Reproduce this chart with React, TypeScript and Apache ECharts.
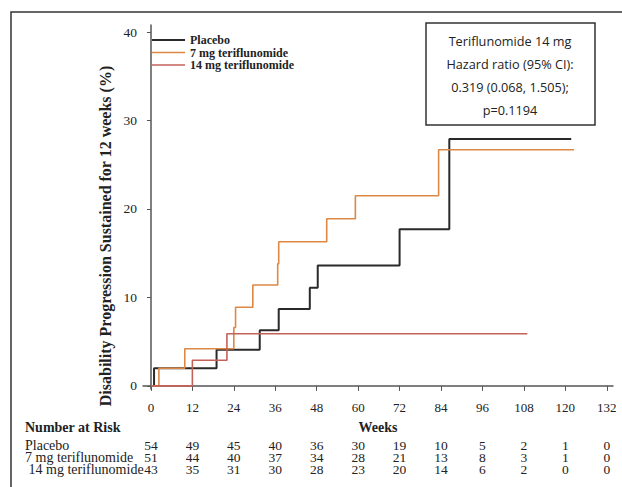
import React, { useEffect, useRef } from "react";
import * as echarts from "echarts";

const weekTicks = [0, 12, 24, 36, 48, 60, 72, 84, 96, 108, 120, 132];
const yTicks = [0, 10, 20, 30, 40];

const seriesNames = ["Placebo", "7 mg teriflunomide", "14 mg teriflunomide"];
const seriesColors = ["#2a2a2a", "#dd8844", "#c4625a"];

const placebo: [number, number][] = [
  [0, 0], [0.9, 2.0], [19, 4.1], [31.5, 6.3], [37, 8.7], [46, 11.1], [48.3, 13.6],
  [72, 17.7], [86.4, 27.9], [121.7, 27.9],
];
const teri7: [number, number][] = [
  [0, 0], [2.3, 2.0], [9.8, 4.2], [24, 6.6], [24.5, 8.9], [29.5, 11.4], [36.7, 13.8],
  [37, 16.3], [50.9, 18.9], [59.2, 21.5], [83.3, 26.7], [122.5, 26.7],
];
const teri14: [number, number][] = [
  [0, 0], [12, 2.9], [22, 5.9], [109, 5.9],
];

const riskLabels = ["Placebo", "7 mg teriflunomide", " 14 mg teriflunomide"];
const riskPlacebo = [54, 49, 45, 40, 36, 30, 19, 10, 5, 2, 1, 0];
const risk7 = [51, 44, 40, 37, 34, 28, 21, 13, 8, 3, 1, 0];
const risk14 = [43, 35, 31, 30, 28, 23, 20, 14, 6, 2, 0, 0];

const boxLines = [
  "Teriflunomide 14 mg",
  "Hazard ratio (95% CI):",
  "0.319 (0.068, 1.505);",
  "p=0.1194",
];

const SERIF = "'Liberation Serif', 'Times New Roman', serif";
const SANS = "'Open Sans', 'Noto Sans', sans-serif";

export default function App() {
  const ref = useRef<HTMLDivElement>(null);
  useEffect(() => {
    if (!ref.current) return;
    const chart = echarts.init(ref.current, undefined, { renderer: "svg" });
    const data = [placebo, teri7, teri14];
    const widths = [2, 1.6, 1.6];
    const option: any = {
      animation: false,
      backgroundColor: "#ffffff",
      grid: { left: 143, right: 9, top: 25, bottom: 98, containLabel: false },
      legend: {
        orient: "vertical",
        left: 147,
        top: 29,
        itemWidth: 33,
        itemHeight: 13,
        itemGap: 0.5,
        symbolKeepAspect: true,
        data: seriesNames.map((n, i) => ({
          name: n,
          icon: i === 0 ? "path://M0,0H33V2H0Z" : "path://M0,0H33V1.6H0Z",
          itemStyle: { color: seriesColors[i] },
        })),
        textStyle: { fontFamily: SERIF, fontWeight: "bold", fontSize: 12, color: "#222" },
      },
      xAxis: {
        type: "value",
        min: -2.3,
        max: 133.8,
        name: "Weeks",
        nameLocation: "middle",
        nameGap: 31,
        nameTextStyle: { fontFamily: SERIF, fontWeight: "bold", fontSize: 14, color: "#222" },
        axisLine: { show: true, lineStyle: { color: "#555", width: 1.5 } },
        axisTick: { show: true, length: 5, customValues: weekTicks, lineStyle: { color: "#555" } },
        axisLabel: { customValues: weekTicks, margin: 12, fontFamily: SERIF, fontSize: 13, color: "#222" },
        splitLine: { show: false },
      },
      yAxis: {
        type: "value",
        min: -0.35,
        max: 40.8,
        axisLine: { show: true, lineStyle: { color: "#555", width: 1.5 } },
        axisTick: { show: true, length: 4, customValues: yTicks, lineStyle: { color: "#555" } },
        axisLabel: { customValues: yTicks, margin: 6, fontFamily: SERIF, fontSize: 13.5, color: "#222" },
        splitLine: { show: false },
      },
      series: seriesNames.map((n, i) => ({
        name: n,
        type: "line",
        step: "end",
        symbol: "none",
        data: data[i],
        color: seriesColors[i],
        lineStyle: { color: seriesColors[i], width: widths[i] },
        z: 2 + i,
      })),
    };
    chart.setOption(option);

    const px = (w: number) => chart.convertToPixel({ xAxisIndex: 0 }, w) as number;
    const g: any[] = [];
    g.push({
      type: "rect",
      shape: { x: 11, y: 12, width: 800, height: 800 },
      style: { fill: "none", stroke: "#333", lineWidth: 1.5 },
      silent: true,
    });
    g.push({
      type: "rect",
      shape: { x: 426, y: 23, width: 169, height: 102 },
      style: { fill: "#fff", stroke: "#333", lineWidth: 1.5 },
      z: 10,
    });
    boxLines.forEach((t, i) => {
      g.push({
        type: "text",
        x: 510,
        y: 41 + i * 23,
        z: 11,
        style: {
          text: t, fill: "#222", fontFamily: SANS, fontSize: 12.7,
          align: "center", verticalAlign: "middle", textAlign: "center", textVerticalAlign: "middle",
        },
      });
    });
    g.push({
      type: "text",
      x: 105,
      y: 236,
      rotation: Math.PI / 2,
      style: {
        text: "Disability Progression Sustained for 12 weeks (%)",
        fill: "#222", fontFamily: SERIF, fontSize: 16, fontWeight: "bold",
        align: "center", verticalAlign: "middle", textAlign: "center", textVerticalAlign: "middle",
      },
    });
    g.push({
      type: "text",
      x: 25,
      y: 427,
      style: {
        text: "Number at Risk", fill: "#222", fontFamily: SERIF, fontSize: 14, fontWeight: "bold",
        align: "left", verticalAlign: "middle", textAlign: "left", textVerticalAlign: "middle",
      },
    });
    const rows = [riskPlacebo, risk7, risk14];
    rows.forEach((row, r) => {
      const y = 445 + r * 12;
      g.push({
        type: "text",
        x: 25,
        y,
        style: {
          text: riskLabels[r], fill: "#222", fontFamily: SERIF, fontSize: 14, lineHeight: 12,
          align: "left", verticalAlign: "middle", textAlign: "left", textVerticalAlign: "middle",
        },
      });
      row.forEach((v, i) => {
        g.push({
          type: "text",
          x: px(weekTicks[i]),
          y,
          style: {
            text: String(v), fill: "#222", fontFamily: SERIF, fontSize: 13.5, lineHeight: 12,
            align: "center", verticalAlign: "middle", textAlign: "center", textVerticalAlign: "middle",
          },
        });
      });
    });
    chart.setOption({ graphic: g });

    return () => chart.dispose();
  }, []);
  return (
    <div
      ref={ref}
      style={{ position: "fixed", left: 0, top: 0, width: 622, height: 487, background: "#fff" }}
    />
  );
}
